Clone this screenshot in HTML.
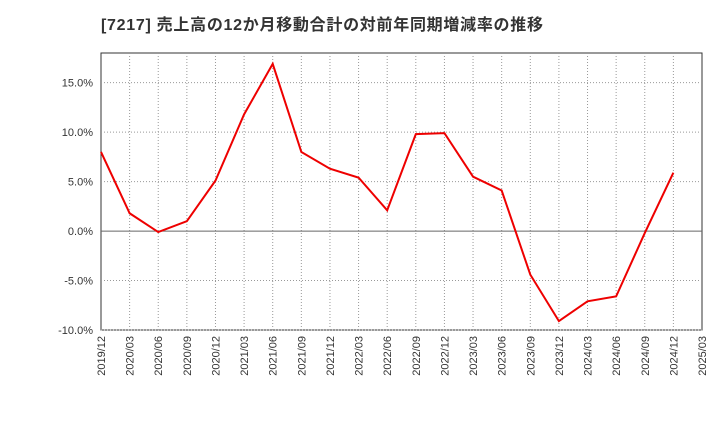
<!DOCTYPE html>
<html><head><meta charset="utf-8"><style>
body{margin:0;background:#fff;width:720px;height:440px;overflow:hidden}
svg text{font-family:"Liberation Sans","Noto Sans CJK JP",sans-serif}
</style></head><body>
<svg id="c" width="720" height="440">
<text x="101" y="30" font-size="16" font-weight="bold" fill="#333" textLength="442" lengthAdjust="spacing">[7217]  売上高の12か月移動合計の対前年同期増減率の推移</text>
</svg>
<script>
const categories=["2019/12","2020/03","2020/06","2020/09","2020/12","2021/03","2021/06","2021/09","2021/12","2022/03","2022/06","2022/09","2022/12","2023/03","2023/06","2023/09","2023/12","2024/03","2024/06","2024/09","2024/12","2025/03"];
const values=[8.0,1.8,-0.1,1.0,5.1,11.8,16.9,8.0,6.3,5.4,2.1,9.8,9.9,5.5,4.1,-4.4,-9.1,-7.1,-6.6,-0.2,5.9];
const yTicks=[-10,-5,0,5,10,15];
const yTickLabels=["-10.0%","-5.0%","0.0%","5.0%","10.0%","15.0%"];
const L=101,R=702,T=53,B=330,yMin=-10,yMax=18;
const ns="http://www.w3.org/2000/svg",svg=document.getElementById('c');
const xs=i=>L+(R-L)*i/(categories.length-1);
const ys=v=>B-(v-yMin)/(yMax-yMin)*(B-T);
function mk(t,a){const e=document.createElementNS(ns,t);for(const k in a)e.setAttribute(k,a[k]);svg.appendChild(e);return e;}
const bg=mk('rect',{x:L,y:T,width:R-L,height:B-T,fill:'#fff',stroke:'#333','stroke-width':1});


categories.forEach((c,i)=>{
 const x=xs(i);
 if(i>0&&i<categories.length-1){const g=mk('line',{x1:x,x2:x,y1:T,y2:B,stroke:'#999','stroke-dasharray':'1,2'});
 
 }
 const t=mk('text',{x:0,y:0,'font-size':11,fill:'#333','text-anchor':'end',transform:`translate(${x+4},${B+6}) rotate(-90)`});
 t.textContent=c;
 
 
});
yTicks.forEach((v,i)=>{
 const y=ys(v);
 const g=mk('line',{x1:L,x2:R,y1:y,y2:y,stroke:v===0?'#666':'#999','stroke-dasharray':v===0?'':'1,2'});
 
 
 const t=mk('text',{x:L-8,y:y+4,'font-size':11,fill:'#333','text-anchor':'end'});
 t.textContent=yTickLabels[i];
 
 
});
const p=mk('polyline',{points:values.map((v,i)=>xs(i)+','+ys(v)).join(' '),fill:'none',stroke:'#e00','stroke-width':2});


</script>
</body></html>
